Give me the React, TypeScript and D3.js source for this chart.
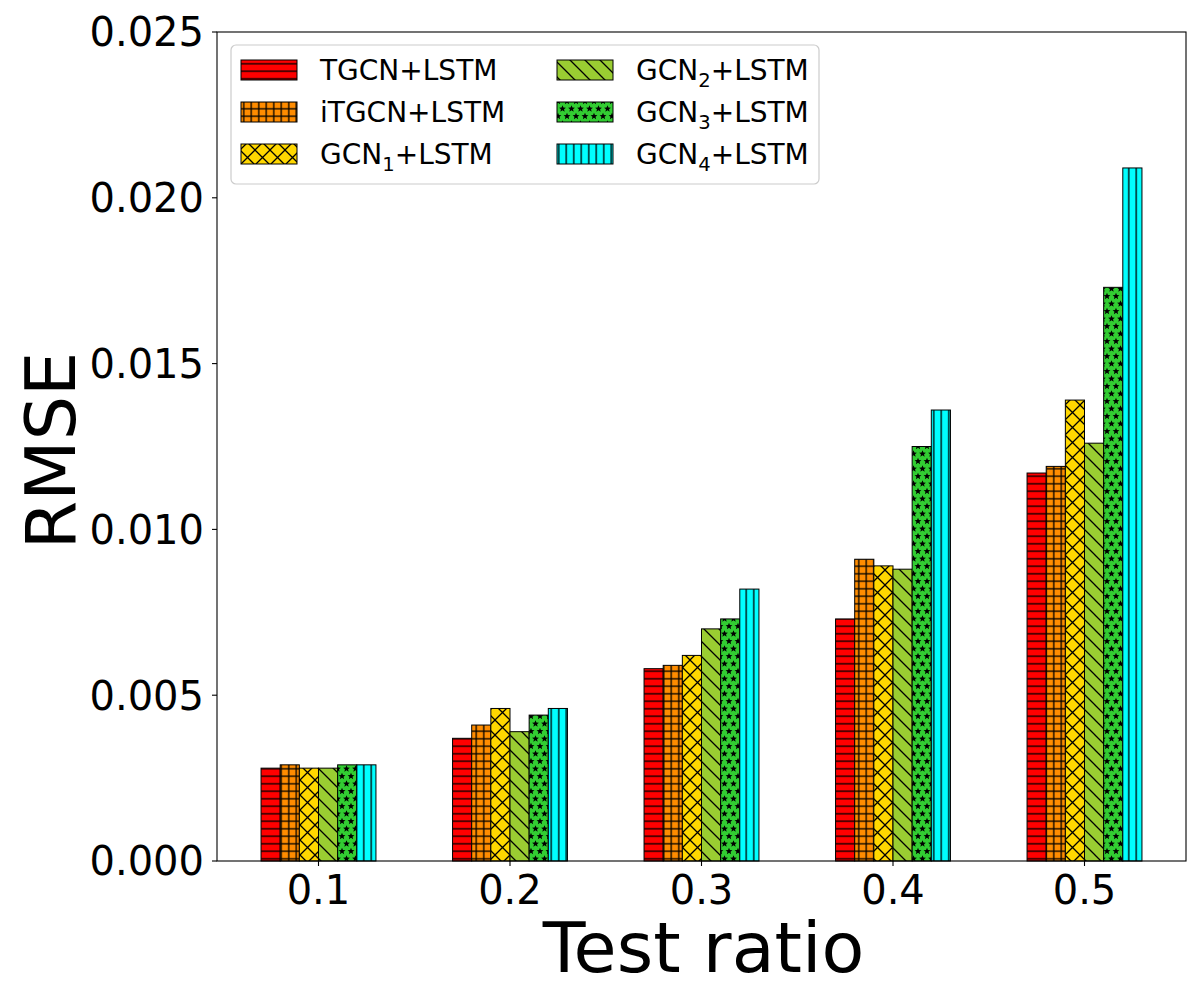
import React from 'react'
import * as d3 from 'd3'

const ratios = ['0.1', '0.2', '0.3', '0.4', '0.5']

const tgcn = [0.0028, 0.0037, 0.0058, 0.0073, 0.0117]
const itgcn = [0.0029, 0.0041, 0.0059, 0.0091, 0.0119]
const gcn1 = [0.0028, 0.0046, 0.0062, 0.0089, 0.0139]
const gcn2 = [0.0028, 0.0039, 0.0070, 0.0088, 0.0126]
const gcn3 = [0.0029, 0.0044, 0.0073, 0.0125, 0.0173]
const gcn4 = [0.0029, 0.0046, 0.0082, 0.0136, 0.0209]

const yTicks = [0, 0.005, 0.01, 0.015, 0.02, 0.025]

interface Series {
    name: string
    sub?: string
    values: number[]
    pattern: string
}

const series: Series[] = [
    { name: 'TGCN', values: tgcn, pattern: 'hatch-h' },
    { name: 'iTGCN', values: itgcn, pattern: 'hatch-grid' },
    { name: 'GCN', sub: '1', values: gcn1, pattern: 'hatch-x' },
    { name: 'GCN', sub: '2', values: gcn2, pattern: 'hatch-bs' },
    { name: 'GCN', sub: '3', values: gcn3, pattern: 'hatch-star' },
    { name: 'GCN', sub: '4', values: gcn4, pattern: 'hatch-v' },
]

const W = 1200
const H = 1000
const left = 217
const right = 1186
const top = 32
const bottom = 861
const barW = 0.1
const font = 'DejaVu Sans, sans-serif'
const hw = 1.3

// star path, 5 points, radius r
const starPath = (cx: number, cy: number, r: number) => {
    const pts: string[] = []
    for (let i = 0; i < 10; i++) {
        const a = -Math.PI / 2 + (i * Math.PI) / 5
        const rr = i % 2 === 0 ? r : r * 0.45
        pts.push(`${(cx + rr * Math.cos(a)).toFixed(2)},${(cy + rr * Math.sin(a)).toFixed(2)}`)
    }
    return 'M' + pts.join('L') + 'Z'
}

const Patterns = () => {
    const s = 7.5
    const d = 15
    const r = 3.6
    return (
        <defs>
            <pattern id="hatch-h" patternUnits="userSpaceOnUse" width={s} height={s}>
                <rect width={s} height={s} fill="#ff0000" />
                <line x1={0} y1={s / 2} x2={s} y2={s / 2} stroke="black" strokeWidth={hw} />
            </pattern>
            <pattern id="hatch-grid" patternUnits="userSpaceOnUse" width={s} height={s}>
                <rect width={s} height={s} fill="#ff8c00" />
                <line x1={0} y1={s / 2} x2={s} y2={s / 2} stroke="black" strokeWidth={hw} />
                <line x1={s / 2} y1={0} x2={s / 2} y2={s} stroke="black" strokeWidth={hw} />
            </pattern>
            <pattern id="hatch-x" patternUnits="userSpaceOnUse" width={d} height={d}>
                <rect width={d} height={d} fill="#ffd700" />
                <path d={`M-1,-1L${d + 1},${d + 1}M-1,${d + 1}L${d + 1},-1`} stroke="black" strokeWidth={hw} />
            </pattern>
            <pattern id="hatch-bs" patternUnits="userSpaceOnUse" width={d} height={d}>
                <rect width={d} height={d} fill="#9acd32" />
                <path d={`M-1,-1L${d + 1},${d + 1}M${-d / 2},${d / 2}L${d / 2},${d * 1.5}M${d / 2},${-d / 2}L${d * 1.5},${d / 2}`}
                      stroke="black" strokeWidth={hw} />
            </pattern>
            <pattern id="hatch-star" patternUnits="userSpaceOnUse" width={s * 1.2} height={s * 2}>
                <rect width={s * 1.2} height={s * 2} fill="#32cd32" />
                <path d={starPath(s * 0.6, s / 2, r) + starPath(0, s * 1.5, r) + starPath(s * 1.2, s * 1.5, r)
                    + starPath(s * 0.6, s * 2.5, r) + starPath(s * 0.6, -s / 2, r)} fill="black" />
            </pattern>
            <pattern id="hatch-v" patternUnits="userSpaceOnUse" width={s} height={s}>
                <rect width={s} height={s} fill="#00ffff" />
                <line x1={s / 2} y1={0} x2={s / 2} y2={s} stroke="black" strokeWidth={hw} />
            </pattern>
        </defs>
    )
}

const Label = ({ s }: { s: Series }) => (
    <>
        {s.name}
        {s.sub && <tspan fontSize="70%" dy={7}>{s.sub}</tspan>}
        <tspan dy={s.sub ? -7 : 0}>+LSTM</tspan>
    </>
)

const App = () => {
    const x = d3.scaleLinear().domain([-0.53, 4.53]).range([left, right])
    const y = d3.scaleLinear().domain([0, 0.025]).range([bottom, top])

    const legendRows = [70, 112, 154]
    const legendCols = [241, 557]

    return (
        <div style={{ position: 'absolute', left: 0, top: 0 }}>
            <svg width={W} height={H} style={{ display: 'block', background: 'white' }}>
                <Patterns />
                {series.map((s, si) =>
                    s.values.map((v, gi) => {
                        const cx = gi + (si - 2.5) * barW
                        return (
                            <rect key={`bar-${si}-${gi}`}
                                  x={x(cx - barW / 2)}
                                  y={y(v)}
                                  width={x(barW) - x(0)}
                                  height={y(0) - y(v)}
                                  fill={`url(#${s.pattern})`}
                                  stroke="black" strokeWidth={1} />
                        )
                    })
                )}
                <rect x={left} y={top} width={right - left} height={bottom - top}
                      fill="none" stroke="black" strokeWidth={1.1} />
                {yTicks.map((t) => (
                    <g key={`yt-${t}`}>
                        <line x1={left - 5} x2={left} y1={y(t)} y2={y(t)} stroke="black" strokeWidth={1.1} />
                        <text x={left - 13} y={y(t)} dy="0.36em" textAnchor="end"
                              fontFamily={font} fontSize={40}>{t.toFixed(3)}</text>
                    </g>
                ))}
                {ratios.map((r, i) => (
                    <g key={`xt-${r}`}>
                        <line x1={x(i)} x2={x(i)} y1={bottom} y2={bottom + 5} stroke="black" strokeWidth={1.1} />
                        <text x={x(i)} y={904} textAnchor="middle" fontFamily={font} fontSize={40}>{r}</text>
                    </g>
                ))}
                <text x={(left + right) / 2 + 2} y={972} textAnchor="middle" fontFamily={font} fontSize={70}>Test ratio</text>
                <text transform={`translate(75, ${(top + bottom) / 2 + 4}) rotate(-90)`} textAnchor="middle"
                      fontFamily={font} fontSize={70}>RMSE</text>

                <rect x={231} y={45} width={588} height={139} rx={5} fill="white" fillOpacity={0.8}
                      stroke="#cccccc" strokeWidth={1.2} />
                {series.map((s, i) => {
                    const col = Math.floor(i / 3)
                    const row = i % 3
                    const lx = legendCols[col]
                    const ly = legendRows[row]
                    return (
                        <g key={`leg-${i}`}>
                            <rect x={lx} y={ly - 10} width={56} height={20} fill={`url(#${s.pattern})`}
                                  stroke="black" strokeWidth={1} />
                            <text x={lx + 79} y={ly + 10} fontFamily={font} fontSize={28}>
                                <Label s={s} />
                            </text>
                        </g>
                    )
                })}
            </svg>
        </div>
    )
}

export default App
